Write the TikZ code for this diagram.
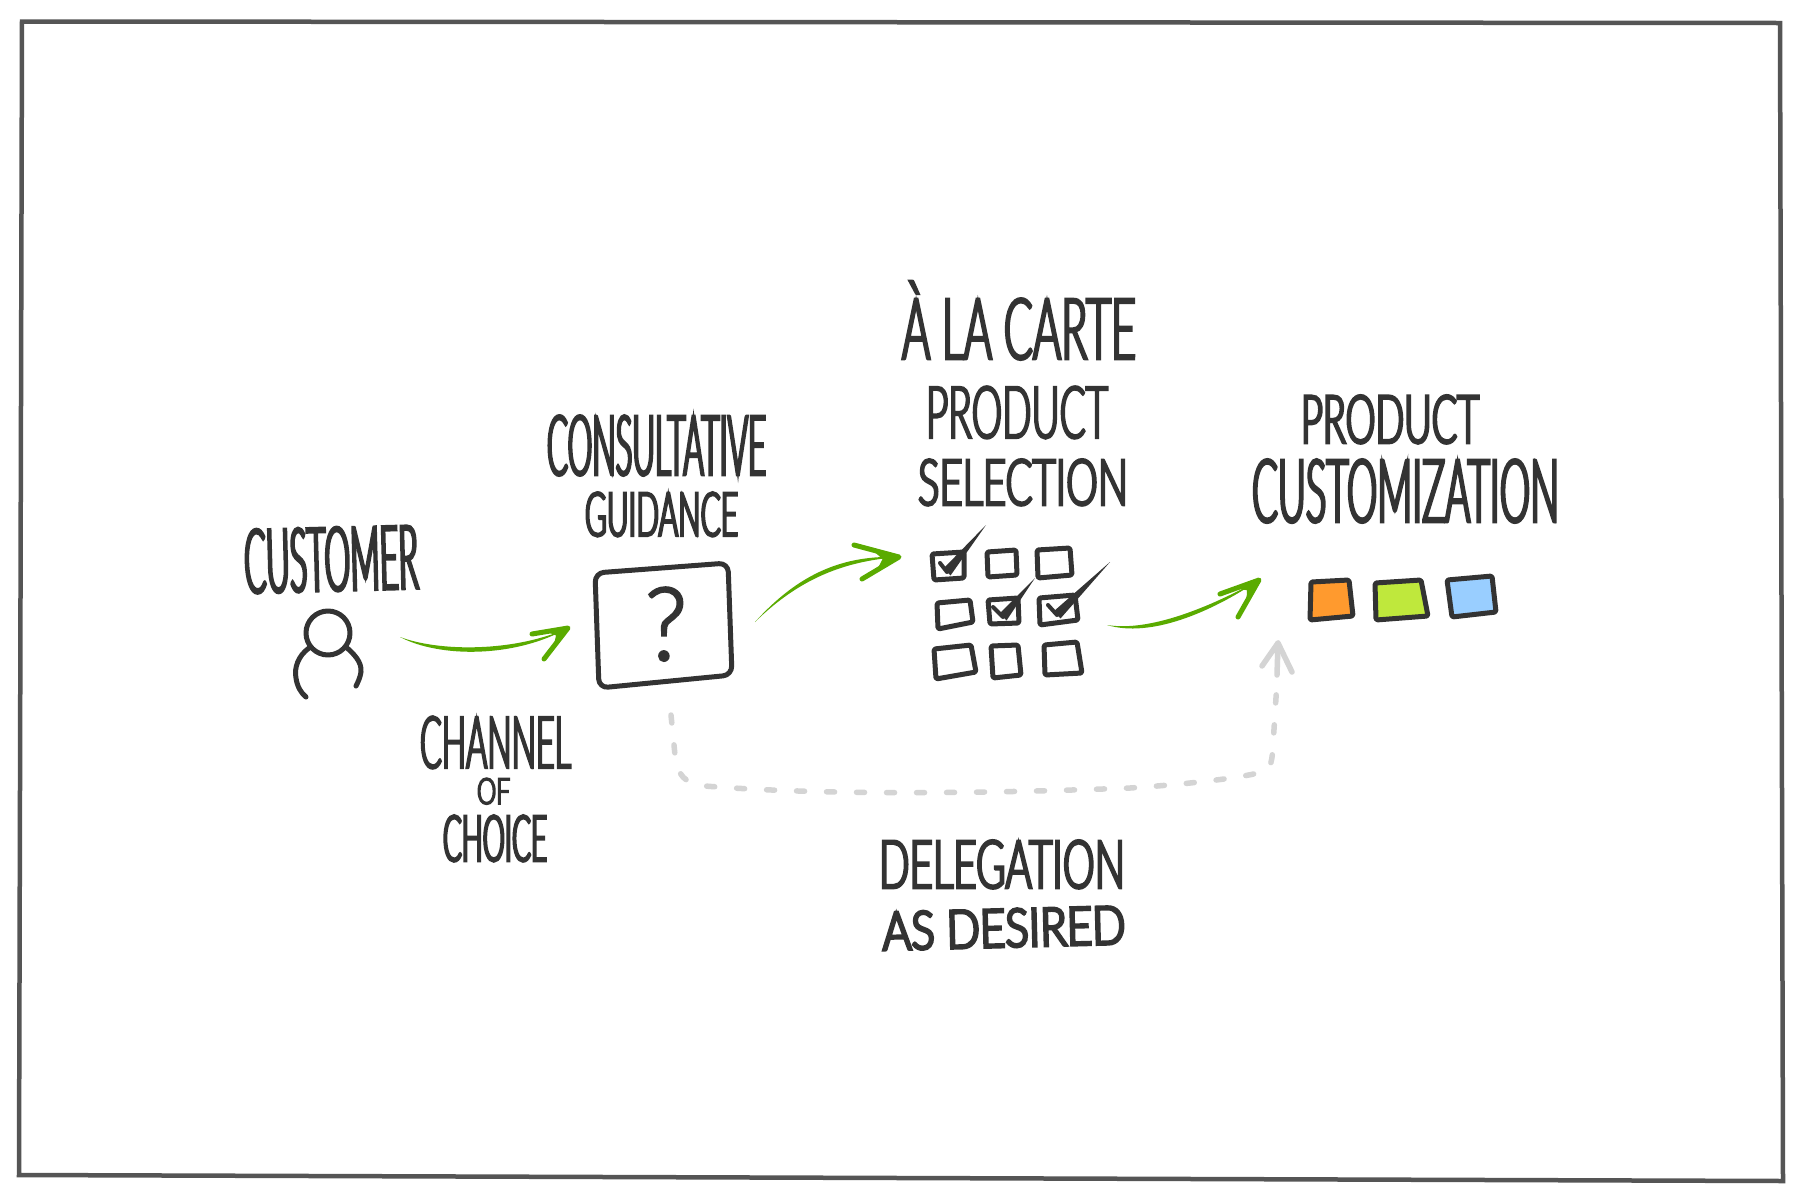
\documentclass[tikz,border=0pt]{standalone}
\usepackage{fontspec}
\setmainfont{Lato}[UprightFont=* Light]
\usetikzlibrary{calc}
\definecolor{ink}{HTML}{333333}
\definecolor{frameink}{HTML}{555555}
\definecolor{greenink}{HTML}{5AAB00}
\definecolor{greyink}{HTML}{D4D4D4}
\definecolor{swatchorange}{HTML}{FF9A2E}
\definecolor{swatchlime}{HTML}{BFE83C}
\definecolor{swatchblue}{HTML}{99CEFF}
\newcommand\handtext[4][3.2]{%
  \pgfmathsetmacro\fsz{#3/0.72}%
  \fontsize{\fsz}{\fsz}\selectfont
  \setbox0=\hbox{#4}%
  \pgfmathsetmacro\stch{#2/\wd0}%
  \edef\doit{\noexpand\addfontfeature{FakeStretch=\stch,FakeBold=#1}}\doit
  #4}
\newcommand\sketcharrow[6]{%
  \fill[greenink] #1 .. controls ($#2+(0,-3)$) and ($#3+(0,-3)$) .. #4
     .. controls ($#3+(0,3)$) and ($#2+(0,3)$) .. #1 -- cycle;
  \draw[greenink,line width=5,line cap=round,line join=round] #5 -- #4 -- #6;
  \fill[greenink] #4 -- ($#4!0.6!#5$) -- ($#4!0.4!($#5!.5!#6$)$) -- ($#4!0.6!#6$) -- cycle;}
\newcommand\tick[3]{%
  \draw[ink,line width=4,line cap=round] #1 -- #2;
  \fill[ink] ($#2+(3.5,3.5)$) -- #3 -- ($#2+(-3.5,-3.5)$) -- cycle;}
\tikzset{
  label text/.style={inner sep=0,outer sep=0,anchor=base west,text=ink},
  region/.style={inner sep=0,outer sep=0,draw=none},
  inkline/.style={draw=ink,line width=5,line cap=round,line join=round},
  boxline/.style={draw=ink,line width=5,line join=round,rounded corners=1.5},
  dashline/.style={draw=greyink,line width=5.5,line cap=round,dash pattern=on 8 off 22},
}
\begin{document}
\begin{tikzpicture}[x=1pt,y=-1pt]
\useasboundingbox (0,0) rectangle (1800,1200);
\fill[white] (0,0) rectangle (1800,1200);
\draw[frameink,line width=4.5,line join=miter] (22,21.5) -- (1780,23) -- (1783,1181) -- (19,1175) -- cycle;

% regions
\node[region,minimum width=72,minimum height=92] (person) at (328,654) {};
\node[region,minimum width=140,minimum height=128] (qbox) at (663,626) {};
\node[region,minimum width=150,minimum height=132] (grid) at (1007,614) {};
\node[region,minimum width=186,minimum height=44] (swatches) at (1403,598) {};

% labels
\node[label text,rotate=1.5] (lcustomer) at (245,593) {\handtext{174}{64}{CUSTOMER}};
\node[label text] (lconsult) at (547,475) {\handtext{219}{60}{CONSULTATIVE}};
\node[label text] (lguidance) at (585,536) {\handtext[4]{153}{44}{GUIDANCE}};
\node[label text] (lchannel) at (420,768) {\handtext{151}{52}{CHANNEL}};
\node[label text] (lof) at (477,804) {\handtext[5]{33}{26}{OF}};
\node[label text] (lchoice) at (443,861) {\handtext[4]{104}{46}{CHOICE}};
\node[label text] (lcarte) at (902,359) {\handtext{234}{61}{À LA CARTE}};
\node[label text] (lprod) at (926,438) {\handtext{182}{52}{PRODUCT}};
\node[label text] (lsel) at (918,505) {\handtext[4]{210}{46}{SELECTION}};
\node[label text] (lprod2) at (1301,443) {\handtext[4]{178}{48}{PRODUCT}};
\node[label text] (lcustom) at (1252,522) {\handtext{307}{63}{CUSTOMIZATION}};
\node[label text] (ldeleg) at (879,888) {\handtext[4]{246}{48}{DELEGATION}};
\node[label text,rotate=1.5] (lasdes) at (883,950) {\handtext[6]{243}{38}{AS DESIRED}};

% person
\draw[inkline] (328,633) circle [radius=22];
\draw[inkline] (309,648) .. controls (298,656) and (294,668) .. (296,678) .. controls (297,686) and (301,693) .. (306,697);
\draw[inkline] (346,647) .. controls (354,654) and (362,662) .. (361,672) .. controls (360,678) and (358,682) .. (356,686);

% question box
\draw[inkline,rounded corners=9] (595,573) -- (728,563) -- (732,675) -- (599,688) -- cycle;
\node[label text] (qmark) at (645,660) {\handtext[2.5]{42}{73}{?}};

% checkboxes
\draw[boxline] (932,554) -- (964,552) -- (964,578) -- (934,580) -- cycle;
\draw[boxline] (987,552) -- (1016,550) -- (1017,575) -- (988,577) -- cycle;
\draw[boxline] (1037,550) -- (1070,548) -- (1072,575) -- (1038,578) -- cycle;
\draw[boxline] (937,603) -- (970,600) -- (973,622) -- (938,629) -- cycle;
\draw[boxline] (988,600) -- (1018,598) -- (1019,623) -- (990,624) -- cycle;
\draw[boxline] (1039,598) -- (1075,595) -- (1078,620) -- (1040,625) -- cycle;
\draw[boxline] (934,649) -- (971,645) -- (976,672) -- (936,679) -- cycle;
\draw[boxline] (991,646) -- (1018,645) -- (1021,675) -- (993,678) -- cycle;
\draw[boxline] (1044,645) -- (1077,642) -- (1082,673) -- (1045,675) -- cycle;
\tick{(940,563)}{(947,572)}{(986,525)}
\tick{(993,607)}{(1003,617)}{(1035,578)}
\tick{(1048,605)}{(1057,615)}{(1110,562)}

% swatches
\filldraw[boxline,fill=swatchorange] (1311,582) -- (1349,580) -- (1353,616) -- (1310,620) -- cycle;
\filldraw[boxline,fill=swatchlime] (1375,583) -- (1421,580) -- (1428,616) -- (1376,620) -- cycle;
\filldraw[boxline,fill=swatchblue] (1447,580) -- (1492,576) -- (1496,612) -- (1452,617) -- cycle;

% green arrows
\sketcharrow{([shift={(36,-17)}]person.east)}{(440,655)}{(515,655)}{([shift={(-25,2)}]qbox.west)}{(532,634)}{(544,659)}
\sketcharrow{([shift={(22,-4)}]qbox.east)}{(800,575)}{(845,558)}{([shift={(-33,-57)}]grid.west)}{(854,545)}{(862,579)}
\sketcharrow{([shift={(25,11)}]grid.east)}{(1150,635)}{(1210,610)}{([shift={(-51,-18)}]swatches.west)}{(1220,594)}{(1238,617)}

% delegation connector
\draw[dashline] ([shift={(8,25)}]qbox.south) -- (675,755) .. controls (677,775) and (685,784) .. (705,786)
  .. controls (830,796) and (1000,793) .. (1130,788)
  .. controls (1190,784) and (1240,778) .. (1262,772)
  .. controls (1272,768) and (1272,760) .. (1273,745) -- (1277,682);
\draw[greyink,line width=5.5,line cap=round,line join=round] (1277,675) -- ([shift={(-125,23)}]swatches.south) -- (1262,666);
\draw[greyink,line width=5.5,line cap=round] ([shift={(-125,23)}]swatches.south) -- (1292,672);
\end{tikzpicture}
\end{document}
